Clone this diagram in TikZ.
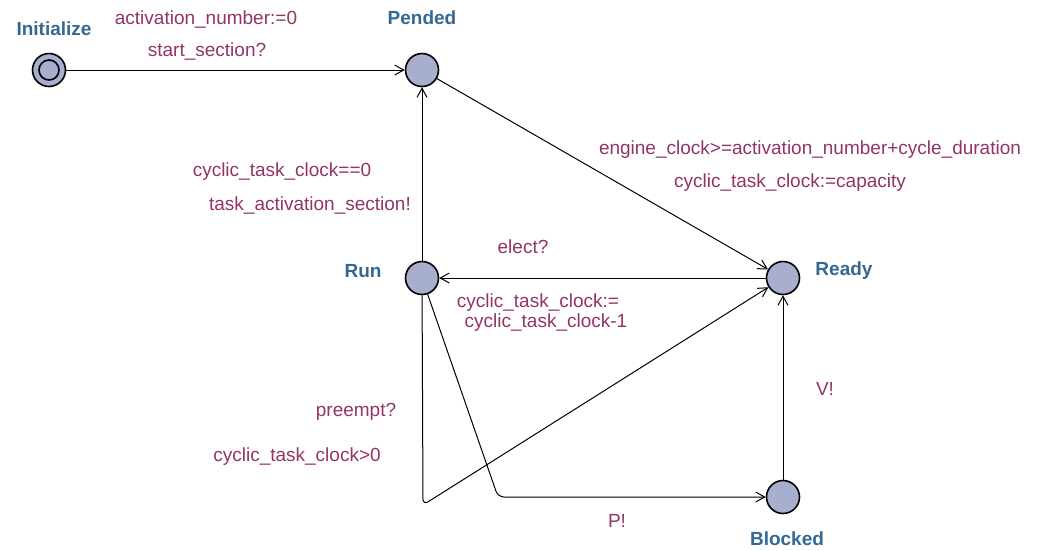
\documentclass[tikz,border=0pt]{standalone}
\usepackage{fontspec}
\setmainfont{Liberation Sans}
\usepackage{tikz}
\usetikzlibrary{arrows.meta,positioning,calc}
\definecolor{locfill}{RGB}{167,174,206}
\definecolor{locblue}{RGB}{52,104,146}
\definecolor{lblred}{RGB}{146,52,102}
\tikzset{
  loc/.style    ={circle,draw,line width=1.6pt,fill=locfill,minimum size=33pt,inner sep=0pt},
  locname/.style={font=\fontsize{19}{22}\selectfont\bfseries,text=locblue,inner sep=0pt},
  lbl/.style    ={font=\fontsize{19}{22}\selectfont,text=lblred,inner sep=0pt},
  trans/.style  ={line width=1pt,-{Straight Barb[length=9pt,width=10pt]}},
}

\begin{document}
\begin{tikzpicture}[x=1pt,y=-1pt]
  \useasboundingbox (0,0) rectangle (1043,550);
  % locations
  \node[loc] (init)    at (49,70){};
  \draw[line width=1.6pt] (init) circle (10pt);
  \node[loc] (pended)  at (422,70){};
  \node[loc] (run)     at (422,278){};
  \node[loc] (ready)   at (783,278){};
  \node[loc] (blocked) at (783,497){};
  \node[locname] (initN)    at (54,29)  {Initialize};
  \node[locname] (pendedN)  at (422,18) {Pended};
  \node[locname] (runN)     at (363,271){Run};
  \node[locname] (readyN)   at (844,271){Ready};
  \node[locname] (blockedN) at (787,539){Blocked};
  % bend points
  \coordinate (preemptC) at (423,505);
  \coordinate (blockC)   at (498,497);
  % transitions
  \draw[trans] (init) -- (pended);
  \draw[trans] (pended) -- (ready);
  \draw[trans] (run) -- (pended);
  \draw[trans] (ready) -- (run);
  \draw[trans,rounded corners=6pt] (run) -- (preemptC) -- (ready);
  \draw[trans,rounded corners=6pt] (run) -- (blockC) -- (blocked);
  \draw[trans] (blocked) -- (ready);
  % labels
  \node[lbl] (l1)  at (206,19) {activation\_number:=0};
  \node[lbl] (l2)  at (207,51) {start\_section?};
  \node[lbl] (l3)  at (810,150){engine\_clock>=activation\_number+cycle\_duration};
  \node[lbl] (l4)  at (790,183){cyclic\_task\_clock:=capacity};
  \node[lbl] (l5)  at (282,172){cyclic\_task\_clock==0};
  \node[lbl] (l6)  at (310,205){task\_activation\_section!};
  \node[lbl] (l7)  at (523,247){elect?};
  \node[lbl] (l8)  at (538,303){cyclic\_task\_clock:=};
  \node[lbl] (l9)  at (546,323){cyclic\_task\_clock-1};
  \node[lbl] (l10) at (356,412){preempt?};
  \node[lbl] (l11) at (297,457){cyclic\_task\_clock>0};
  \node[lbl] (l12) at (617,521){P!};
  \node[lbl] (l13) at (825,389){V!};
\end{tikzpicture}
\end{document}
